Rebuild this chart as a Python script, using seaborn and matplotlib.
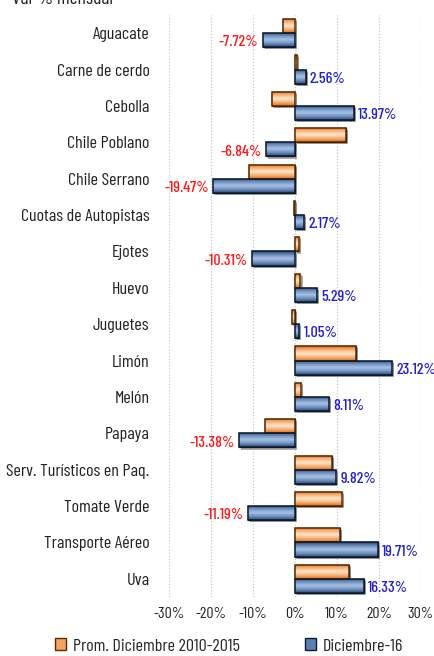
import numpy as np
import pandas as pd
import matplotlib
matplotlib.use("Agg")
import matplotlib.pyplot as plt
import seaborn as sns
from matplotlib.colors import LinearSegmentedColormap
from matplotlib.patches import Rectangle
import matplotlib.patheffects as pe

categories = ["Aguacate", "Carne de cerdo", "Cebolla", "Chile Poblano", "Chile Serrano",
              "Cuotas de Autopistas", "Ejotes", "Huevo", "Juguetes", "Limón", "Melón",
              "Papaya", "Serv. Turísticos en Paq.", "Tomate Verde", "Transporte Aéreo", "Uva"]
prom_2010_2015 = [-2.9, 0.5, -5.5, 12.1, -10.9, -0.3, 1.0, 1.3, -0.6, 14.5, 1.5,
                  -7.1, 8.7, 11.2, 10.6, 12.8]
dic_16 = [-7.72, 2.56, 13.97, -6.84, -19.47, 2.17, -10.31, 5.29, 1.05, 23.12, 8.11,
          -13.38, 9.82, -11.19, 19.71, 16.33]
series_names = ["Prom. Diciembre 2010-2015", "Diciembre-16"]
x_ticks = [-30, -20, -10, 0, 10, 20, 30]
title = "Var % mensual"

sns.set_theme(style="white")
FONT = ["Barlow Condensed", "DejaVu Sans"]
plt.rcParams["font.family"] = FONT

df = pd.DataFrame({
    "cat": categories * 2,
    "val": prom_2010_2015 + dic_16,
    "serie": [series_names[0]] * len(categories) + [series_names[1]] * len(categories),
})

W, H = 435, 656
fig = plt.figure(figsize=(W / 100, H / 100), dpi=100)
ax = fig.add_axes([169 / W, 1 - 597 / H, (421 - 169) / W, (597 - 15) / H])

base_cols = ["#EE8A3C", "#4B6E9E"]
sns.barplot(data=df, y="cat", x="val", hue="serie", orient="h", ax=ax,
            palette=base_cols, width=0.78, edgecolor="#1a1a1a", linewidth=1.0,
            legend=False, zorder=2)

ax.set_xlim(-30, 30)
ax.set_ylim(len(categories) - 0.5, -0.5)

cmaps = [
    LinearSegmentedColormap.from_list("o", ["#E06E12", "#F6B27A", "#FDE6CF", "#F6B27A", "#E06E12"]),
    LinearSegmentedColormap.from_list("b", ["#24406A", "#6F92C2", "#A9C2E2", "#6F92C2", "#2A4A78"]),
]
grad = np.linspace(0, 1, 64).reshape(-1, 1)
edge_cols = ["#5a2a00", "#0d1a2e"]

for k, cont in enumerate(ax.containers):
    for p in cont.patches:
        x0, y0 = p.get_x(), p.get_y()
        w, h = p.get_width(), p.get_height()
        p.set_path_effects([pe.SimplePatchShadow(offset=(1.5, -1.5), shadow_rgbFace="#9a9a9a", alpha=0.8), pe.Normal()])
        im = ax.imshow(grad, extent=[x0, x0 + w, y0 + h, y0], aspect="auto",
                       cmap=cmaps[k], zorder=2.5, interpolation="bilinear")
        im.set_clip_path(p)
        ax.add_patch(Rectangle((x0, y0), w, h, fill=False, edgecolor=edge_cols[k],
                               linewidth=1.1, zorder=3))

ax.set_xlim(-30, 30)
ax.set_ylim(len(categories) - 0.5, -0.5)
ax.set_aspect("auto")

# data labels on Diciembre-16 bars
blue_cont = ax.containers[1]
for p, v in zip(blue_cont.patches, dic_16):
    yc = p.get_y() + p.get_height() / 2 + 0.06
    txt = f"{v:.2f}%"
    if v >= 0:
        ax.annotate(txt, (v, yc), xytext=(3, 0), textcoords="offset points",
                    ha="left", va="center", color="#2222CC", fontsize=11.5,
                    fontweight="medium", family=FONT, zorder=4)
    else:
        ax.annotate(txt, (v, yc), xytext=(-3, 0), textcoords="offset points",
                    ha="right", va="center", color="#FF1A1A", fontsize=11.5,
                    fontweight="medium", family=FONT, zorder=4)

ax.set_xticks(x_ticks)
ax.set_xticklabels([f"{t}%" for t in x_ticks], fontsize=11.5, color="#222222")
ax.tick_params(axis="x", length=0, pad=7)
ax.tick_params(axis="y", length=0, pad=14, labelsize=13, labelcolor="#222222")
ax.set_xlabel("")
ax.set_ylabel("")
for s in ax.spines.values():
    s.set_visible(False)
ax.grid(axis="x", color="#c8c8c8", linestyle=(0, (1, 1.5)), linewidth=0.9, zorder=0)
ax.grid(axis="y", visible=False)
ax.set_axisbelow(True)

fig.text(12 / W, 1 - 4 / H, title, ha="left", va="baseline", fontsize=14, color="#222222")

handles = [Rectangle((0, 0), 1, 1, facecolor=c, edgecolor=e, linewidth=1.0)
           for c, e in zip(["#F4A262", "#5C80B2"], edge_cols)]
fig.legend(handles, series_names, loc="center", bbox_to_anchor=(229 / W, 1 - 646 / H),
           ncol=2, frameon=False, fontsize=13, handlelength=0.6, handleheight=0.6,
           handletextpad=0.4, columnspacing=3.6)

fig.savefig("out.png", dpi=100)
